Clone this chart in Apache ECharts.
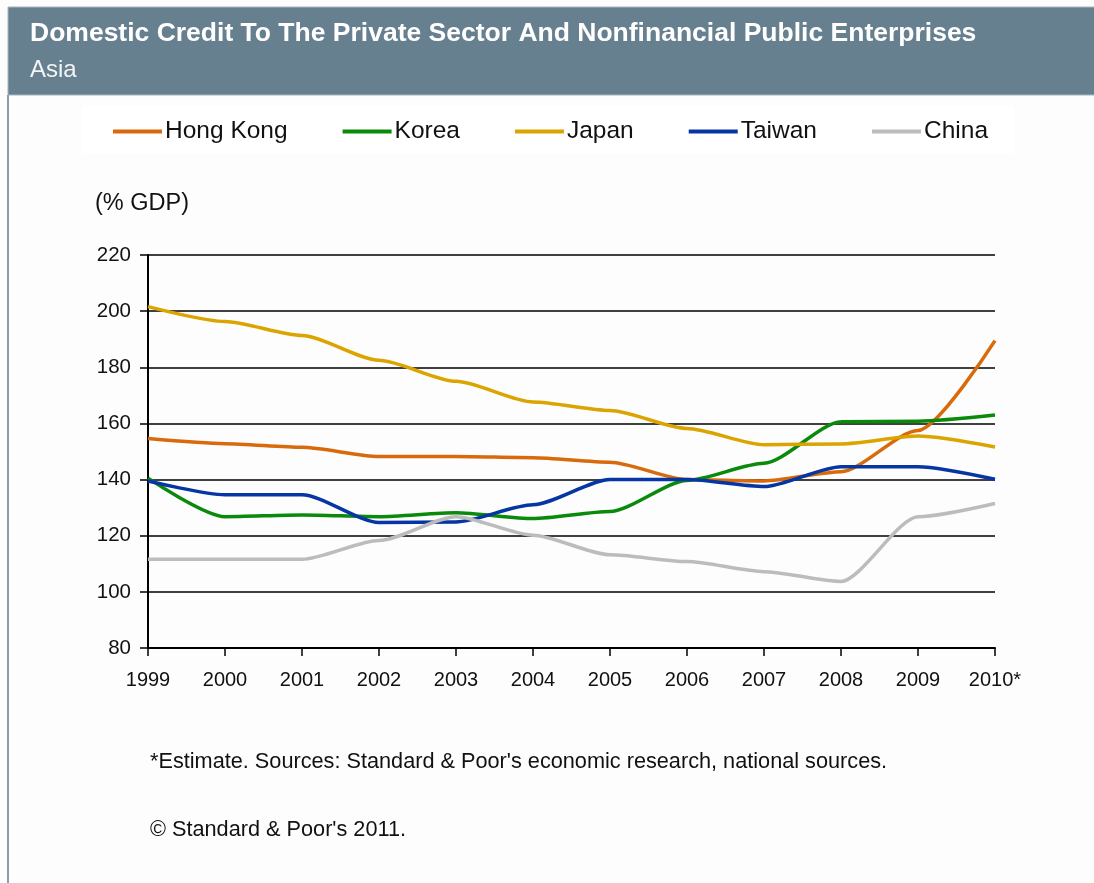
<!DOCTYPE html>
<html>
<head>
<meta charset="utf-8">
<script src="https://cdn.jsdelivr.net/npm/echarts@6/dist/echarts.min.js"></script>
<style>
html,body{margin:0;padding:0;background:#fdfdfd;}
#chart{width:1094px;height:883px;}
</style>
</head>
<body>
<div id="chart"></div>
<script>
const years = ['1999','2000','2001','2002','2003','2004','2005','2006','2007','2008','2009','2010*'];
const hongKong = [154.6,152.8,151.5,148.2,148.2,147.8,146.2,140,139.5,142.8,157.5,189.5];
const korea    = [140.5,126.8,127.4,126.8,128.2,126.1,128.6,139.7,145.8,160.6,160.8,163];
const japan    = [201.6,196.3,191.3,182.5,175,167.6,164.6,158.2,152.4,152.7,155.5,151.6];
const taiwan   = [139.5,134.6,134.6,124.7,124.9,131,140,140,137.5,144.6,144.6,140.1];
const china    = [111.6,111.6,111.6,118.3,126.8,120.2,113.2,110.8,107.2,103.7,126.8,131.5];
const yTicks   = {min:80, max:220, interval:20};

const seriesDefs = [
  {name:'Hong Kong', data:hongKong, color:'#d86a0c'},
  {name:'Korea',     data:korea,    color:'#0a8a0a'},
  {name:'Japan',     data:japan,    color:'#dba400'},
  {name:'Taiwan',    data:taiwan,   color:'#0636a3'},
  {name:'China',     data:china,    color:'#bcbcbc'}
];

const FONT = 'Liberation Sans, Arial, sans-serif';
const chart = echarts.init(document.getElementById('chart'));
chart.setOption({
  backgroundColor:'#fdfdfd',
  animation:false,
  textStyle:{fontFamily:FONT},
  graphic:[
    {type:'rect', shape:{x:8,y:7,width:1090,height:88}, style:{fill:'#66808f', stroke:'#a7b5bf', lineWidth:1}},
    {type:'line', shape:{x1:8,y1:95,x2:8,y2:883}, style:{stroke:'#8c9ca8', lineWidth:2}},
    {type:'rect', shape:{x:82,y:106,width:932,height:48}, style:{fill:'#ffffff'}},
    {type:'text', x:30, y:34, style:{text:'Domestic Credit To The Private Sector And Nonfinancial Public Enterprises', fill:'#ffffff', font:'bold 26.5px '+FONT, textVerticalAlign:'middle'}},
    {type:'text', x:30, y:70, style:{text:'Asia', fill:'#f2f4f6', font:'24px '+FONT, textVerticalAlign:'middle'}},
    {type:'text', x:95, y:204, style:{text:'(% GDP)', fill:'#111', font:'23.5px '+FONT, textVerticalAlign:'middle'}},
    {type:'text', x:150, y:762, style:{text:"*Estimate. Sources: Standard & Poor's economic research, national sources.", fill:'#111', font:'21.7px '+FONT, textVerticalAlign:'middle'}},
    {type:'text', x:150, y:830, style:{text:"\u00A9 Standard & Poor's 2011.", fill:'#111', font:'21.7px '+FONT, textVerticalAlign:'middle'}}
  ],
  legend:{
    left:108, top:114,
    icon:'rect', itemWidth:49, itemHeight:4, itemGap:55,
    textStyle:{fontSize:24.5, color:'#111', fontFamily:FONT, padding:[0,0,0,-2]},
    data:seriesDefs.map(s=>s.name)
  },
  grid:{left:148, right:99, top:255, bottom:235, containLabel:false},
  xAxis:{
    type:'category', data:years, boundaryGap:false,
    axisLine:{lineStyle:{color:'#000', width:2}},
    axisTick:{show:true, length:8, alignWithLabel:true, lineStyle:{color:'#000', width:1.5}},
    axisLabel:{color:'#111', fontSize:20, margin:22, interval:0, fontFamily:FONT},
    splitLine:{show:false}
  },
  yAxis:{
    type:'value', min:yTicks.min, max:yTicks.max, interval:yTicks.interval,
    axisLine:{show:true, lineStyle:{color:'#000', width:2}},
    axisTick:{show:true, length:8, lineStyle:{color:'#000', width:1.5}},
    axisLabel:{color:'#111', fontSize:20.5, margin:17, fontFamily:FONT},
    splitLine:{show:true, lineStyle:{color:'#000', width:1.5}}
  },
  series:seriesDefs.map(s=>({
    name:s.name, type:'line', data:s.data, smooth:0.25, smoothMonotone:'x',
    symbol:'none', lineStyle:{color:s.color, width:3.5}, itemStyle:{color:s.color}
  }))
});
</script>
</body>
</html>
